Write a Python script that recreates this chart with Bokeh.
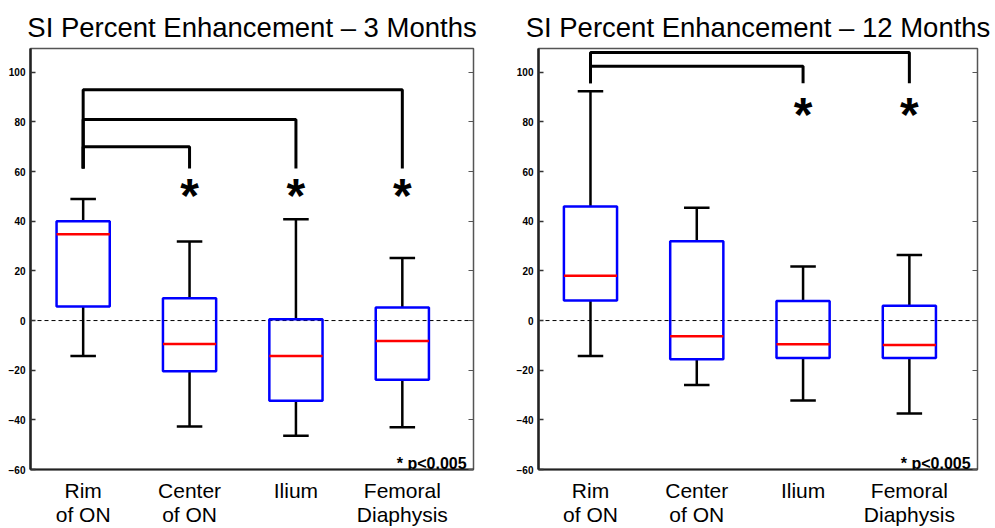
from bokeh.plotting import figure
from bokeh.models import Range1d, FixedTicker, LinearAxis, Span, Label
from bokeh.layouts import row
from bokeh.core.properties import value
from bokeh.embed import file_html
from bokeh.resources import INLINE

categories = ["Rim\nof ON", "Center\nof ON", "Ilium", "Femoral\nDiaphysis"]
positions = [1, 2, 3, 4]
y_ticks = [-60, -40, -20, 0, 20, 40, 60, 80, 100]

# 3 months
m3_lo = [-14.3, -42.7, -46.4, -43.0]
m3_q1 = [5.7, -20.4, -32.3, -23.8]
m3_med = [34.8, -9.4, -14.3, -8.2]
m3_q3 = [40.0, 9.0, 0.5, 5.3]
m3_hi = [49.0, 31.8, 40.8, 25.2]
m3_bracket_to = [2, 3, 4]
m3_bracket_y = [70, 81, 93]
m3_bracket_base = 61.3
m3_star_y = 55.3

# 12 months
m12_lo = [-14.3, -26.0, -32.2, -37.4]
m12_q1 = [8.1, -15.6, -15.1, -15.1]
m12_med = [18.1, -6.3, -9.5, -9.8]
m12_q3 = [46.0, 32.0, 7.9, 6.0]
m12_hi = [92.4, 45.4, 21.8, 26.4]
m12_bracket_to = [3, 4]
m12_bracket_y = [102.4, 108.0]
m12_bracket_base = 95.6
m12_star_y = 88.0

FONT = "Liberation Sans"


def panel(title, lo, q1, med, q3, hi, b_to, b_y, b_base, star_y,
          xs, xe, bl, br, w):
    p = figure(width=w, height=528, x_range=Range1d(xs, xe),
               y_range=Range1d(-60, 109.6), output_backend="svg",
               toolbar_location=None, min_border_left=bl, min_border_right=br,
               min_border_top=48, min_border_bottom=56, title=title)
    p.grid.visible = False
    p.outline_line_color = "#555555"
    p.outline_line_width = 1.5
    p.title.text_font = FONT
    p.title.text_font_size = "27.5px"
    p.title.text_font_style = "normal"
    p.title.align = "center"
    p.title.text_color = "black"
    p.title.standoff = 12

    ya = p.yaxis[0]
    ya.ticker = FixedTicker(ticks=y_ticks)
    ya.major_tick_in = 5
    ya.major_tick_out = 0
    ya.minor_tick_in = 0
    ya.minor_tick_out = 0
    ya.major_label_text_font = FONT
    ya.major_label_text_font_style = "bold"
    ya.major_label_text_font_size = "10px"
    ya.major_label_text_color = "black"
    ya.major_label_standoff = 5
    ya.axis_line_color = "#222222"
    ya.axis_line_width = 2.5
    ya.major_tick_line_color = "#333333"
    ya.major_tick_line_width = 1.5

    xa = p.xaxis[0]
    xa.ticker = FixedTicker(ticks=positions)
    xa.major_label_overrides = {pos: c for pos, c in zip(positions, categories)}
    xa.major_tick_in = 0
    xa.major_tick_out = 0
    xa.minor_tick_in = 0
    xa.minor_tick_out = 0
    xa.major_label_text_font = FONT
    xa.major_label_text_font_size = "21px"
    xa.major_label_text_color = "black"
    xa.major_label_text_line_height = 1.05
    xa.major_label_standoff = 9
    xa.axis_line_color = "#222222"
    xa.axis_line_width = 2

    ra = LinearAxis(ticker=FixedTicker(ticks=y_ticks), major_label_text_font_size="0px",
                    major_tick_in=5, major_tick_out=0, minor_tick_in=0, minor_tick_out=0,
                    axis_line_color=None, major_label_standoff=0,
                    major_tick_line_color="#555555", major_tick_line_width=1.2)
    p.add_layout(ra, "right")

    p.add_layout(Span(location=0, dimension="width", line_color="black",
                      line_width=1, line_dash="4 3", level="underlay"))

    hw = 0.25
    cw = 0.12
    x = positions
    p.segment(x0=x, y0=q3, x1=x, y1=hi, line_color="black", line_width=2.5)
    p.segment(x0=x, y0=lo, x1=x, y1=q1, line_color="black", line_width=2.5)
    p.segment(x0=[v - cw for v in x], y0=hi, x1=[v + cw for v in x], y1=hi,
              line_color="black", line_width=2.5)
    p.segment(x0=[v - cw for v in x], y0=lo, x1=[v + cw for v in x], y1=lo,
              line_color="black", line_width=2.5)
    p.quad(left=[v - hw for v in x], right=[v + hw for v in x], bottom=q1, top=q3,
           fill_color=None, line_color="#0000FF", line_width=2.5)
    p.segment(x0=[v - hw for v in x], y0=med, x1=[v + hw for v in x], y1=med,
              line_color="#FF0000", line_width=2.5)

    bxs = [[1, 1, t, t] for t in b_to]
    bys = [[b_base, h, h, b_base] for h in b_y]
    p.multi_line(xs=bxs, ys=bys, line_color="black", line_width=3)

    p.text(x=b_to, y=[star_y] * len(b_to), text=["*"] * len(b_to),
           text_font=value(FONT), text_font_style="bold", text_font_size="48px",
           text_align="center", text_baseline="middle", text_color="black",
           y_offset=12)

    p.add_layout(Label(x=xe - 0.065, y=-57.5, text="* p<0.005", text_font=FONT,
                       text_font_style="bold", text_font_size="16px",
                       text_align="right", text_baseline="alphabetic",
                       text_color="black"))
    return p


p1 = panel("SI Percent Enhancement \u2013 3 Months", m3_lo, m3_q1, m3_med, m3_q3, m3_hi,
           m3_bracket_to, m3_bracket_y, m3_bracket_base, m3_star_y,
           0.505, 4.669, 30, 20, 493)
p2 = panel("SI Percent Enhancement \u2013 12 Months", m12_lo, m12_q1, m12_med, m12_q3, m12_hi,
           m12_bracket_to, m12_bracket_y, m12_bracket_base, m12_star_y,
           0.511, 4.641, 45, 18, 502)

layout = row(p1, p2)
open("out.html", "w").write(file_html(layout, INLINE))
